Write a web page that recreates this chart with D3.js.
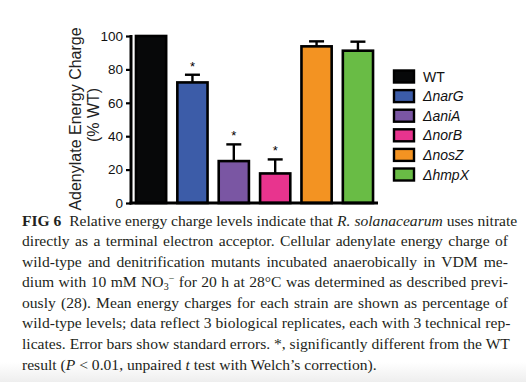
<!DOCTYPE html>
<html><head><meta charset="utf-8">
<script src="https://cdn.jsdelivr.net/npm/d3@7"></script>
<style>
html,body{margin:0;padding:0;background:#fff;width:526px;height:382px;overflow:hidden;}
#cap{position:absolute;left:22px;top:210.5px;width:486px;font-family:"Liberation Serif","Times New Roman",serif;font-size:15.6px;color:#231f20;}
#cap div{height:20.6px;line-height:20.6px;white-space:nowrap;text-align:justify;text-align-last:justify;}
#cap div.last{text-align-last:left;}
#cap sub{font-size:10px;vertical-align:-3px;line-height:0;}
#cap sup{font-size:10px;vertical-align:5px;line-height:0;}
</style></head><body>
<svg id="chart" width="526" height="382" style="position:absolute;left:0;top:0"></svg>
<div id="cap"></div>
<script>
const categories = ["WT","narG","aniA","norB","nosZ","hmpX"];
const values = [100, 72.2, 25.1, 17.7, 93.8, 91.2];
const errors = [0, 4.6, 10.0, 8.4, 3.0, 5.4];
const significant = [false, true, true, true, false, false];
const colors = ["#070809","#3c5ca8","#7a56a3","#e8348e","#f39322","#69bc45"];
const yTicks = [0,20,40,60,80,100];
const captionLines = [
 '<b>FIG 6</b>&nbsp;&nbsp;Relative energy charge levels indicate that <i>R. solanacearum</i> uses nitrate',
 'directly as a terminal electron acceptor. Cellular adenylate energy charge of',
 'wild-type and denitrification mutants incubated anaerobically in VDM me-',
 'dium with 10 mM NO<sub>3</sub><sup>−</sup> for 20 h at 28°C was determined as described previ-',
 'ously (28). Mean energy charges for each strain are shown as percentage of',
 'wild-type levels; data reflect 3 biological replicates, each with 3 technical rep-',
 'licates. Error bars show standard errors. *, significantly different from the WT',
 'result (<i>P</i> &lt; 0.01, unpaired <i>t</i> test with Welch’s correction).'
];

const svg = d3.select("#chart");
// faint grey shading at the bottom edge of the scan
const defs = svg.append("defs");
const gr = defs.append("linearGradient").attr("id","bot").attr("x1",0).attr("x2",0).attr("y1",0).attr("y2",1);
gr.append("stop").attr("offset",0).attr("stop-color","#fff");
gr.append("stop").attr("offset",1).attr("stop-color","#eeeeee");
svg.append("rect").attr("x",0).attr("y",362).attr("width",526).attr("height",20).attr("fill","url(#bot)");

const x = d3.scaleBand().domain(categories).range([131, 378]).paddingInner(0.27).paddingOuter(0.12);
const y = d3.scaleLinear().domain([0,100]).range([203, 36]);
const sans = "'Liberation Sans', Arial, Helvetica, sans-serif";

// bars
svg.append("g").selectAll("rect").data(categories).join("rect")
  .attr("x", d => x(d)).attr("width", x.bandwidth())
  .attr("y", (d,i) => y(values[i])).attr("height", (d,i) => y(0) - y(values[i]))
  .attr("fill", (d,i) => colors[i]).attr("stroke", "#000").attr("stroke-width", 2.6);

// error bars
const eg = svg.append("g").attr("stroke","#000").attr("stroke-width",2.4);
categories.forEach((c,i) => {
  if (!errors[i]) return;
  const cx = x(c) + x.bandwidth()/2;
  eg.append("line").attr("x1",cx).attr("x2",cx).attr("y1",y(values[i])).attr("y2",y(values[i]+errors[i]));
  eg.append("line").attr("x1",cx-7.5).attr("x2",cx+7.5).attr("y1",y(values[i]+errors[i])).attr("y2",y(values[i]+errors[i]));
  if (significant[i]) {
    svg.append("text").attr("x",cx).attr("y",y(values[i]+errors[i])-4).attr("text-anchor","middle")
      .attr("font-family",sans).attr("font-size",13).text("*");
  }
});

// y axis
const ya = svg.append("g").attr("transform","translate(131,0)")
  .call(d3.axisLeft(y).tickValues(yTicks).tickSize(5).tickPadding(3));
ya.select(".domain").attr("stroke-width",3).attr("d", `M0,${y(100)-1}V${y(0)+1.5}`);
ya.selectAll(".tick line").attr("stroke-width",2.2);
ya.selectAll(".tick text").attr("font-family",sans).attr("font-size",13.5).attr("fill","#111");

// x axis line
svg.append("line").attr("x1",129.5).attr("x2",378).attr("y1",y(0)).attr("y2",y(0))
  .attr("stroke","#000").attr("stroke-width",3);

// y title
const yt = svg.append("text").attr("transform",`translate(81,119) rotate(-90)`)
  .attr("text-anchor","middle").attr("font-family",sans).attr("font-size",16).attr("fill","#222");
yt.append("tspan").attr("x",0).attr("dy",0).text("Adenylate Energy Charge");
yt.append("tspan").attr("x",4).attr("dy",18).text("(% WT)");

// legend
const lg = svg.append("g");
categories.forEach((c,i) => {
  const ly = 76.5 + i*19.6;
  lg.append("rect").attr("x",394).attr("y",ly-6).attr("width",20).attr("height",12)
    .attr("fill",colors[i]).attr("stroke","#000").attr("stroke-width",2.4);
  const t = lg.append("text").attr("x",423).attr("y",ly+5).attr("font-family",sans).attr("font-size",14).attr("fill","#111");
  if (i===0) t.text(c); else t.attr("font-style","italic").text("Δ"+c);
});

// caption
d3.select("#cap").selectAll("div").data(captionLines).join("div")
  .attr("class",(d,i)=> i===captionLines.length-1 ? "last" : null)
  .html(d=>d);
</script>
</body></html>
